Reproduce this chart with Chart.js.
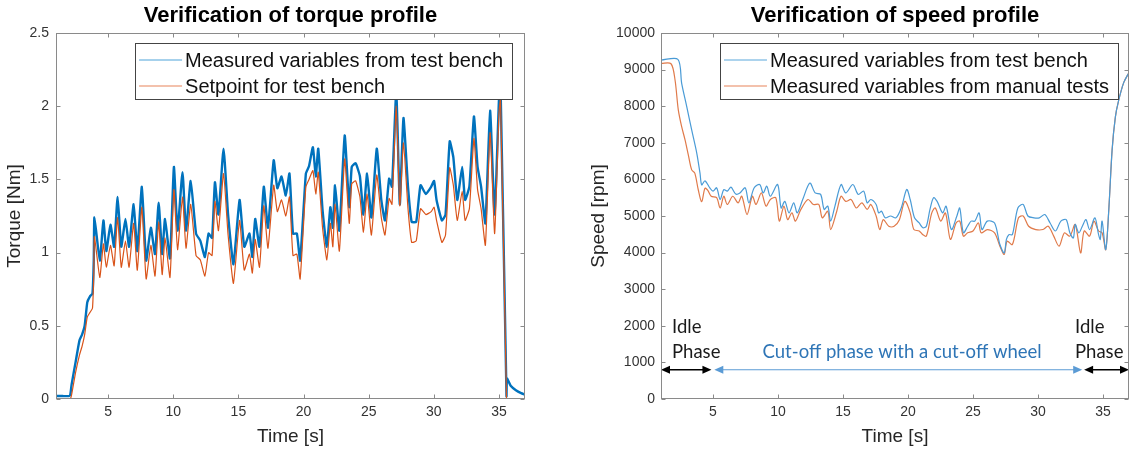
<!DOCTYPE html>
<html><head><meta charset="utf-8">
<script src="https://cdn.jsdelivr.net/npm/chart.js@4.4.1/dist/chart.umd.min.js"></script>
<style>
html,body{margin:0;padding:0;background:#fff;width:1133px;height:453px;overflow:hidden}
#wrap{position:relative;width:1133px;height:453px;background:#fff}
canvas{position:absolute;top:0}
#c1{left:0}
#c2{left:566px}
</style></head><body>
<div id="wrap"><canvas id="c1" width="566" height="453"></canvas><canvas id="c2" width="567" height="453"></canvas></div>
<script>
// ---------- data ----------
const timeTicks = [5, 10, 15, 20, 25, 30, 35];
const torqueTicks = [0, 0.5, 1, 1.5, 2, 2.5];
const speedTicks = [0, 1000, 2000, 3000, 4000, 5000, 6000, 7000, 8000, 9000, 10000];

const torqueTime = [
  1.0, 1.5, 2.0, 2.1, 2.2, 2.5, 2.8, 3.0, 3.2, 3.4, 3.6, 3.8, 3.9,
  3.95, 4.36, 4.64, 4.86, 5.18, 5.46, 5.73, 6.01, 6.33, 6.61,
  6.96, 7.24, 7.59, 7.92, 8.28, 8.60, 8.88, 9.15, 9.37, 9.75,
  10.05, 10.33, 10.71, 10.98, 11.34, 11.75, 12.08, 12.43, 12.71, 12.98,
  13.20, 13.47, 13.86, 14.21, 14.62, 15.09, 15.45, 15.85, 16.07, 16.29,
  16.62, 16.95, 17.27, 17.71, 17.99, 18.31, 18.64, 18.92, 19.19, 19.49,
  19.74, 20.18, 20.42, 20.72, 20.94, 21.13, 21.46, 21.79, 22.06, 22.25,
  22.42, 22.75, 23.16, 23.51, 23.70, 24.00, 24.33, 24.60, 24.88, 25.21,
  25.62, 25.97, 26.25, 26.57, 26.79, 27.12, 27.39, 27.67, 28.02, 28.30,
  28.65, 28.98, 29.39, 29.80, 30.02, 30.21, 30.62, 30.90, 31.22, 31.50,
  31.80, 32.18, 32.40, 32.73, 33.08, 33.36, 33.63, 33.96, 34.32, 34.67,
  35.00, 35.12, 35.58, 35.62, 35.9, 36.3, 36.7, 37.0
];
const torqueMeasured = [
  0.02, 0.02, 0.02, 0.03, 0.10, 0.25, 0.40, 0.44, 0.50, 0.66, 0.70, 0.72, 0.95,
  1.24, 0.945, 1.22, 1.01, 1.19, 1.04, 1.38, 1.04, 1.23, 1.04,
  1.33, 1.01, 1.45, 0.945, 1.17, 0.99, 1.34, 0.99, 1.23, 0.96,
  1.585, 1.15, 1.55, 1.15, 1.49, 1.13, 1.08, 0.97, 1.13, 1.10,
  1.48, 1.26, 1.71, 1.26, 0.92, 1.36, 1.04, 1.13, 0.97, 1.23,
  1.04, 1.45, 1.17, 1.63, 1.44, 1.52, 1.39, 1.54, 1.13, 1.13,
  0.945, 1.54, 1.59, 1.72, 1.52, 1.71, 1.29, 1.04, 1.31, 1.17,
  1.46, 1.15, 1.80, 1.31, 1.585, 1.61, 1.52, 1.26, 1.54, 1.24,
  1.71, 1.36, 1.22, 1.505, 1.45, 2.10, 1.33, 1.92, 1.45, 1.21,
  1.21, 1.46, 1.40, 1.45, 1.49, 1.36, 1.22, 1.26, 1.76, 1.65,
  1.36, 1.585, 1.36, 1.45, 1.93, 1.585, 1.45, 1.20, 1.97, 1.26,
  2.04, 2.15, 0.02, 0.14, 0.09, 0.06, 0.04, 0.03
];
const torqueSetpoint = [
  0, 0, 0, 0, 0.03, 0.18, 0.30, 0.36, 0.44, 0.56, 0.59, 0.62, 0.85,
  1.11, 0.83, 1.06, 0.90, 1.05, 0.91, 1.24, 0.90, 1.08, 0.90,
  1.20, 0.88, 1.31, 0.82, 1.05, 0.84, 1.21, 0.85, 1.10, 0.83,
  1.43, 1.02, 1.38, 1.03, 1.33, 0.98, 0.95, 0.84, 1.00, 0.98,
  1.35, 1.15, 1.54, 1.12, 0.79, 1.22, 0.88, 0.99, 0.86, 1.09,
  0.90, 1.32, 1.03, 1.46, 1.28, 1.36, 1.25, 1.38, 0.98, 0.99,
  0.82, 1.45, 1.50, 1.56, 1.40, 1.55, 1.17, 0.95, 1.20, 1.04,
  1.33, 1.01, 1.64, 1.20, 1.47, 1.49, 1.38, 1.14, 1.40, 1.12,
  1.53, 1.24, 1.12, 1.37, 1.33, 2.00, 1.32, 1.75, 1.30, 1.07,
  1.08, 1.30, 1.26, 1.28, 1.31, 1.22, 1.07, 1.12, 1.58, 1.46,
  1.22, 1.42, 1.22, 1.30, 1.78, 1.43, 1.30, 1.05, 1.82, 1.13,
  1.95, 2.05, 0, 0, 0, 0, 0, 0
];

const speedTimeBench = [
  1.0, 2.3, 2.59, 2.98, 3.36, 3.75, 4.0, 4.13, 4.38, 4.77,
  5.0, 5.28, 5.55, 5.83, 6.10, 6.38, 6.75, 7.07, 7.48, 7.76,
  8.17, 8.59, 8.86, 9.14, 9.41, 9.97, 10.24, 10.52, 10.85, 11.21,
  11.48, 11.90, 12.45, 12.86, 13.28, 13.55, 13.83, 14.05, 14.38, 14.85,
  15.21, 15.76, 16.17, 16.59, 16.86, 17.14, 17.55, 17.74, 17.97, 18.24,
  18.66, 19.07, 19.48, 19.90, 20.17, 20.50, 20.86, 21.14, 21.41, 21.69,
  21.97, 22.24, 22.66, 22.93, 23.34, 23.76, 23.98, 24.26, 24.59, 24.86,
  25.14, 25.47, 25.69, 26.10, 26.66, 27.07, 27.40, 27.57, 27.76, 28.03,
  28.45, 28.86, 29.22, 29.69, 30.10, 30.52, 30.93, 31.34, 31.76, 32.17,
  32.45, 32.72, 32.86, 33.14, 33.41, 33.69, 33.97, 34.38, 34.66, 34.79,
  34.93, 35.21, 35.45, 35.7, 35.95, 36.2, 36.6, 37.0
];
const speedBench = [
  9260, 9280, 8626, 7990, 7350, 6720, 6170, 5850, 5960, 5760,
  5680, 5770, 5450, 5720, 5680, 5790, 5600, 5630, 5770, 5360,
  5770, 5860, 5630, 5815, 5540, 5860, 5220, 5400, 5085, 5360,
  5085, 5450, 5900, 5630, 5590, 5180, 5270, 4860, 5270, 5860,
  5630, 5860, 5590, 5680, 5360, 5450, 5315, 5085, 5130, 4950,
  5000, 4950, 5220, 5725, 5450, 4950, 4810, 4680, 4720, 5180,
  5500, 5400, 5085, 5270, 4630, 5000, 5220, 4540, 4720, 4860,
  4860, 5085, 4630, 4860, 4810, 4220, 3990, 4360, 4490, 4490,
  5220, 5315, 5000, 4950, 4950, 5040, 4810, 4590, 4860, 4900,
  4540, 4400, 4770, 4540, 4720, 4900, 4630, 4950, 4490, 4360,
  4860, 4080, 5200, 6800, 7700, 8150, 8650, 8920
];
const speedTimeManual = [
  1.0, 1.77, 2.08, 2.33, 2.59, 2.85, 3.1, 3.36, 3.6, 3.87,
  4.13, 4.38, 4.6, 4.86, 5.28, 5.55, 5.83, 6.10, 6.52, 6.93,
  7.21, 7.62, 8.03, 8.31, 8.72, 9.08, 9.41, 9.83, 10.10, 10.46,
  10.74, 11.07, 11.34, 11.76, 12.31, 12.72, 13.14, 13.41, 13.83, 14.05,
  14.52, 14.85, 15.21, 15.62, 16.03, 16.45, 16.86, 17.14, 17.55, 17.83,
  18.10, 18.52, 18.93, 19.34, 19.76, 20.17, 20.45, 20.86, 21.14, 21.41,
  21.83, 22.10, 22.52, 22.88, 23.26, 23.70, 23.98, 24.26, 24.59, 25.00,
  25.41, 25.63, 26.10, 26.66, 27.07, 27.40, 27.62, 28.03, 28.50, 28.86,
  29.28, 29.83, 30.38, 30.79, 31.21, 31.62, 32.03, 32.45, 32.86, 33.28,
  33.55, 33.97, 34.30, 34.66, 34.93, 35.21, 35.45, 35.7, 35.95, 36.2, 36.6, 37.0
];
const speedManual = [
  9170, 9160, 8715, 7900, 7440, 7080, 6670, 6260, 6170, 5710,
  5390, 5760, 5700, 5540, 5500, 5220, 5540, 5315, 5540, 5360,
  5540, 5040, 5540, 5315, 5630, 5270, 5450, 5500, 4860, 5270,
  4900, 5085, 4860, 5180, 5450, 5315, 5315, 4950, 5130, 4630,
  5130, 5540, 5400, 5450, 5220, 5360, 5180, 5315, 5000, 4630,
  4900, 4720, 4720, 4900, 5400, 5085, 4630, 4590, 4490, 4450,
  5085, 5220, 4860, 5085, 4360, 4810, 4860, 4450, 4540, 4590,
  4810, 4540, 4630, 4540, 4175, 3950, 4310, 4220, 4950, 5000,
  4720, 4630, 4630, 4720, 4450, 4175, 4540, 4450, 4770, 3990,
  4590, 4450, 4860, 4590, 4540, 4080, 5200, 6800, 7700, 8150, 8650, 8920
];

// annotation content for the speed chart
const phaseArrowLevel = 800;
const phaseArrows = [
  {from: 1.0, to: 4.88, color: '#000000', width: 1.6},
  {from: 5.1, to: 33.4, color: '#5B9BD5', width: 1.1},
  {from: 33.55, to: 37.0, color: '#000000', width: 1.6}
];
const phaseLabels = [
  {text: 'Idle', t: 1.85, v: 1970, color: '#1a1a1a', align: 'left'},
  {text: 'Phase', t: 1.85, v: 1290, color: '#1a1a1a', align: 'left'},
  {text: 'Cut-off phase with a cut-off wheel', t: 19.55, v: 1290, color: '#2E75B6', align: 'center'},
  {text: 'Idle', t: 32.85, v: 1970, color: '#1a1a1a', align: 'left'},
  {text: 'Phase', t: 32.85, v: 1290, color: '#1a1a1a', align: 'left'}
];

// ---------- helpers ----------
const FONT = '"Liberation Sans", Arial, Helvetica, sans-serif';
const TICK_COLOR = '#333333';
const AXIS_COLOR = '#8a8a8a';

function pts(xs, ys) { return xs.map((x, i) => ({x: x, y: ys[i]})); }

const framePlugin = {
  id: 'frame',
  afterDatasetsDraw(chart, args, opts) {
    const ctx = chart.ctx, a = chart.chartArea;
    const xs = chart.scales.x, ys = chart.scales.y;
    const L = Math.round(a.left) + 0.5, R = Math.round(a.right) - 0.5;
    const T = Math.round(a.top) + 0.5, B = Math.round(a.bottom) - 0.5;
    ctx.save();
    ctx.strokeStyle = AXIS_COLOR; ctx.lineWidth = 1;
    ctx.strokeRect(L, T, R - L, B - T);
    const tl = 4;
    ctx.beginPath();
    xs.ticks.forEach(t => {
      const px = Math.round(xs.getPixelForValue(t.value)) + 0.5;
      ctx.moveTo(px, B); ctx.lineTo(px, B - tl);
      ctx.moveTo(px, T); ctx.lineTo(px, T + tl);
    });
    ys.ticks.forEach(t => {
      const py = Math.round(ys.getPixelForValue(t.value)) + 0.5;
      ctx.moveTo(L, py); ctx.lineTo(L + tl, py);
      ctx.moveTo(R, py); ctx.lineTo(R - tl, py);
    });
    ctx.stroke();

    // legend box (inside axes, top-right)
    const lg = opts.legend;
    ctx.font = lg.size + 'px ' + FONT;
    const labels = chart.data.datasets.map(d => d.label);
    const tw = Math.max(...labels.map(s => ctx.measureText(s).width));
    const boxR = a.right - lg.rightGap;
    const boxW = 4 + 43 + 3 + tw + 9;
    const boxL = boxR - boxW;
    const boxT = a.top + 10, boxH = 56;
    ctx.fillStyle = '#ffffff';
    ctx.fillRect(boxL, boxT, boxW, boxH);
    ctx.strokeStyle = '#444444'; ctx.lineWidth = 1;
    ctx.strokeRect(Math.round(boxL) + 0.5, Math.round(boxT) + 0.5, Math.round(boxW), boxH);
    chart.data.datasets.forEach((d, i) => {
      const cy = boxT + 17 + i * 26;
      ctx.strokeStyle = d.legendColor || d.borderColor;
      ctx.lineWidth = 1.2;
      ctx.beginPath(); ctx.moveTo(boxL + 4, cy); ctx.lineTo(boxL + 47, cy); ctx.stroke();
      ctx.fillStyle = '#111111';
      ctx.textAlign = 'left'; ctx.textBaseline = 'middle';
      ctx.fillText(d.label, boxL + 50, cy + 1);
    });
    ctx.restore();
  },
  afterDraw(chart, args, opts) {
    const ctx = chart.ctx, a = chart.chartArea;
    ctx.save();
    ctx.font = 'bold 22px ' + FONT;
    ctx.fillStyle = '#000000';
    ctx.textAlign = 'center'; ctx.textBaseline = 'alphabetic';
    ctx.fillText(opts.title, (a.left + a.right) / 2, 22);
    ctx.restore();
  }
};

function arrowHead(ctx, x, y, dir, len, half) {
  ctx.beginPath();
  ctx.moveTo(x, y);
  ctx.lineTo(x - dir * len, y - half);
  ctx.lineTo(x - dir * len, y + half);
  ctx.closePath();
  ctx.fill();
}

const phasePlugin = {
  id: 'phases',
  afterDatasetsDraw(chart) {
    const ctx = chart.ctx;
    const xs = chart.scales.x, ys = chart.scales.y;
    const py = ys.getPixelForValue(phaseArrowLevel);
    ctx.save();
    phaseArrows.forEach(p => {
      const x1 = xs.getPixelForValue(p.from), x2 = xs.getPixelForValue(p.to);
      ctx.strokeStyle = p.color; ctx.fillStyle = p.color; ctx.lineWidth = p.width;
      ctx.beginPath(); ctx.moveTo(x1 + 4, py); ctx.lineTo(x2 - 4, py); ctx.stroke();
      arrowHead(ctx, x1, py, -1, 9, 4);
      arrowHead(ctx, x2, py, 1, 9, 4);
    });
    ctx.font = '18.5px Lato, "Open Sans", sans-serif';
    ctx.textBaseline = 'middle';
    phaseLabels.forEach(l => {
      ctx.fillStyle = l.color; ctx.textAlign = l.align;
      ctx.fillText(l.text, xs.getPixelForValue(l.t), ys.getPixelForValue(l.v));
    });
    ctx.restore();
  }
};

function makeOptions(cfg) {
  return {
    responsive: false, animation: false, devicePixelRatio: 1,
    layout: {padding: {top: 33, right: cfg.padRight, left: 0, bottom: 0}},
    plugins: {
      legend: {display: false}, tooltip: {enabled: false}, title: {display: false},
      frame: {title: cfg.title, legend: {size: 20, rightGap: cfg.legendGap}}
    },
    elements: {point: {radius: 0}, line: {tension: cfg.tension, borderJoinStyle: 'round'}},
    scales: {
      x: {
        type: 'linear', min: 1, max: 37,
        afterBuildTicks: s => { s.ticks = timeTicks.map(v => ({value: v})); },
        afterFit: s => { s.height = 54; },
        grid: {display: false, drawTicks: false},
        border: {display: false},
        ticks: {color: TICK_COLOR, font: {family: FONT, size: 14}, padding: 5, maxRotation: 0, autoSkip: false,
                callback: v => String(v)},
        title: {display: true, text: 'Time [s]', color: '#262626', font: {family: FONT, size: 19}, padding: {top: 0, bottom: 5}}
      },
      y: {
        type: 'linear', min: cfg.yMin, max: cfg.yMax,
        afterBuildTicks: s => { s.ticks = cfg.yTicks.map(v => ({value: v})); },
        afterFit: s => { s.width = cfg.yWidth; },
        grid: {display: false, drawTicks: false},
        border: {display: false},
        ticks: {color: TICK_COLOR, font: {family: FONT, size: 14}, padding: cfg.yPad, autoSkip: false,
                callback: v => String(v)},
        title: {display: true, text: cfg.yTitle, color: '#262626', font: {family: FONT, size: 19}, padding: {top: cfg.yTitlePad, bottom: 0}}
      }
    }
  };
}

new Chart(document.getElementById('c1'), {
  type: 'line',
  data: {datasets: [
    {label: 'Measured variables from test bench', data: pts(torqueTime, torqueMeasured),
     borderColor: '#0072BD', legendColor: '#4FA3DA', borderWidth: 2.4, order: 1},
    {label: 'Setpoint for test bench', data: pts(torqueTime, torqueSetpoint),
     borderColor: '#D95319', legendColor: '#E8835A', borderWidth: 1.2, order: 0}
  ]},
  options: makeOptions({title: 'Verification of torque profile', padRight: 41, legendGap: 13, tension: 0.15,
    yMin: 0, yMax: 2.5, yTicks: torqueTicks, yWidth: 56, yPad: 7, yTitle: 'Torque [Nm]', yTitlePad: 3}),
  plugins: [framePlugin]
});

new Chart(document.getElementById('c2'), {
  type: 'line',
  data: {datasets: [
    {label: 'Measured variables from test bench', data: pts(speedTimeBench, speedBench),
     borderColor: '#4A9BD6', legendColor: '#5AA7DC', borderWidth: 1.2},
    {label: 'Measured variables from manual tests', data: pts(speedTimeManual, speedManual),
     borderColor: '#E07A4A', legendColor: '#E8835A', borderWidth: 1.2}
  ]},
  options: makeOptions({title: 'Verification of speed profile', padRight: 4, legendGap: 11, tension: 0.3,
    yMin: 0, yMax: 10000, yTicks: speedTicks, yWidth: 95, yPad: 6, yTitle: 'Speed [rpm]', yTitlePad: 21}),
  plugins: [phasePlugin, framePlugin]
});
</script>
</body></html>
